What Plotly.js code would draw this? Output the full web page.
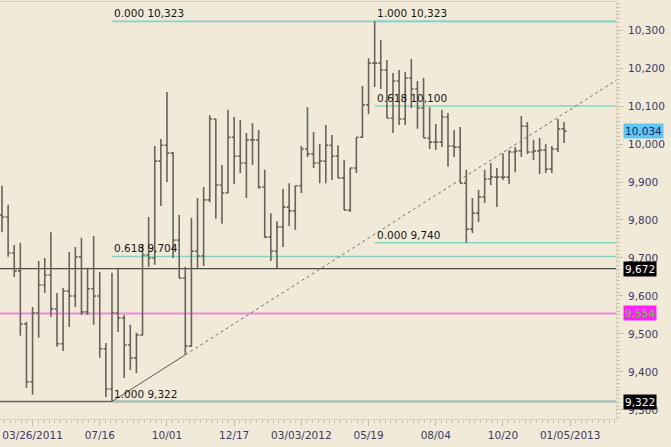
<!DOCTYPE html>
<html><head><meta charset="utf-8">
<script src="https://cdn.plot.ly/plotly-3.0.1.min.js"></script>
<style>html,body{margin:0;padding:0;background:#f2ead8;} #chart{width:671px;height:447px;}</style>
</head><body><div id="chart"></div>
<script>
// Weekly OHLC bars (index 0 = first bar on the chart)
const opens = [9813,9808,9713,9666,9526,9374,9555,9629,9655,9566,9474,9613,9600,9703,9558,9619,9600,9461,9355,9555,
9542,9471,9437,9497,9708,9700,9955,9997,9976,9747,9647,9468,9718,9705,9853,10066,9892,9871,10018,9968,
9950,10011,10011,9887,9755,9718,9782,9834,9824,9890,9987,9974,9950,9955,9997,9968,9911,9826,9937,10018,
10103,10213,10213,10195,10068,10166,10066,10174,10145,10095,10016,10005,10005,10071,9995,9992,9897,9776,9818,9861,
9908,9913,9913,9913,9979,9982,10047,9979,9982,9984,9934,9987,10040];
const highs = [9890,9840,9734,9740,9532,9571,9692,9700,9768,9608,9621,9716,9729,9753,9674,9758,9663,9476,9661,9674,
9550,9524,9503,9737,9808,9995,10013,10137,9979,9813,9676,9805,9858,9887,10076,10066,9945,10090,10071,10063,
10029,10055,10037,9932,9818,9797,9882,9897,9890,9995,10097,10032,10000,10050,10024,9997,9958,9937,10018,10153,
10226,10323,10274,10221,10187,10195,10190,10224,10166,10174,10097,10053,10090,10082,10037,10045,9932,9858,9879,9932,
9950,9937,9976,9984,9992,10074,10058,10011,10016,10000,9995,10066,10058];
const lows = [9768,9703,9650,9495,9358,9340,9490,9608,9545,9466,9455,9518,9571,9550,9550,9524,9437,9334,9322,9505,
9384,9405,9397,9495,9676,9682,9837,9900,9700,9647,9445,9466,9671,9679,9847,9803,9790,9871,9895,9924,
9858,9945,9882,9753,9692,9672,9729,9784,9774,9871,9966,9937,9897,9897,9905,9911,9826,9821,9924,10016,
10079,10150,10145,10068,10029,10050,10050,10095,10040,10016,9987,9984,9992,9940,9966,9897,9740,9766,9795,9845,
9892,9834,9905,9895,9926,9966,9974,9958,9921,9924,9924,9979,10003];
const closes = [9808,9713,9666,9526,9374,9555,9629,9655,9566,9474,9613,9600,9703,9558,9619,9600,9461,9355,9555,9542,
9471,9437,9497,9708,9700,9955,9997,9976,9747,9647,9468,9718,9705,9853,10066,9892,9871,10018,9968,9950,
10011,10011,9887,9755,9718,9782,9834,9824,9890,9987,9974,9950,9955,9997,9968,9911,9826,9937,10018,10103,
10213,10213,10195,10068,10166,10066,10174,10145,10095,10016,10005,10005,10071,9995,9992,9897,9776,9818,9861,9908,
9913,9913,9913,9979,9982,10047,9979,9982,9984,9934,9987,10040,10034];

// x-axis tick positions (bar index) and labels
const tickIdx = [5,16,27,38,49,60,71,82,93];
const tickLabels = ["03/26/2011","07/16","10/01","12/17","03/03/2012","05/19","08/04","10/20","01/05/2013"];

// Fibonacci levels: [label, value, start bar index]
const fibLabels = ["0.000 10,323","0.618 9,704","1.000 9,322","1.000 10,323","0.618 10,100","0.000 9,740"];
const fibValues = [10323, 9704, 9322, 10323, 10100, 9740];
const fibStart  = [18, 18, 18, 61, 61, 61];

// horizontal marker levels with axis boxes
const markLevels = [9672, 9554, 9322];
const lastClose = 10034;

// trend line anchors (bar index, price)
const trendX = [18, 30];
const trendY = [9322, 9445];

const xMax = 100.5, xMin = -0.33;
const idx = opens.map((_, i) => i);

const bg = '#f2ead8';
const barColor = '#69645a';
const slope = (trendY[1]-trendY[0])/(trendX[1]-trendX[0]);
const trendEndY = trendY[1] + slope*(xMax - trendX[1]);

const traces = [
  {type:'ohlc', x: idx, open: opens, high: highs, low: lows, close: closes,
   increasing:{line:{color:barColor, width:1.6}}, decreasing:{line:{color:barColor, width:1.6}},
   tickwidth:0.4, hoverinfo:'skip', showlegend:false},
  {type:'scatter', mode:'lines', x: trendX, y: trendY, line:{color:'#5c5850', width:1}, hoverinfo:'skip', showlegend:false},
  {type:'scatter', mode:'lines', x: [trendX[1], xMax], y: [trendY[1], trendEndY], line:{color:'#77716a', width:1, dash:'dot'}, hoverinfo:'skip', showlegend:false}
];

const shapes = [
  {type:'line', xref:'paper', x0:0, x1:1, yref:'y', y0:9672, y1:9672, line:{color:'#4e4a44', width:1.2}, layer:'below'},
  {type:'line', xref:'paper', x0:0, x1:1, yref:'y', y0:9554, y1:9554, line:{color:'#ee88dd', width:2}, layer:'below'},
  {type:'line', xref:'paper', x0:0, x1:1, yref:'y', y0:9322, y1:9322, line:{color:'#6a655c', width:1.5}, layer:'below'}
];
fibValues.forEach((v, i) => {
  shapes.push({type:'line', xref:'x', x0: fibStart[i], x1: xMax, yref:'y', y0:v, y1:v, line:{color:'#86d3c6', width:1.6}, layer:'below'});
});

const annotations = fibLabels.map((t, i) => ({
  xref:'x', yref:'y', x: fibStart[i], y: fibValues[i], text: t, showarrow:false,
  xanchor:'left', yanchor:'bottom', yshift:0,
  font:{family:'DejaVu Sans', size:10.5, color:'#161616'}
}));
const boxStyles = [
  {bg:'#000000', fg:'#ffffff'},
  {bg:'#ff22ff', fg:'#66cc33'},
  {bg:'#000000', fg:'#ffffff'}
];
markLevels.forEach((v, i) => {
  annotations.push({xref:'paper', yref:'y', x:1, y:v, xanchor:'left', yanchor:'middle', xshift:7,
    text: v.toLocaleString('en-US'), showarrow:false, bgcolor: boxStyles[i].bg, borderpad:1,
    font:{family:'DejaVu Sans', size:10.5, color: boxStyles[i].fg}});
});
annotations.push({xref:'paper', yref:'y', x:1, y:lastClose, xanchor:'left', yanchor:'middle', xshift:7,
  text: lastClose.toLocaleString('en-US'), showarrow:false, bgcolor:'#5ec8f2', borderpad:1,
  font:{family:'DejaVu Sans', size:10.5, color:'#1a2a55'}});

const layout = {
  width:671, height:447,
  margin:{l:0, r:55, t:2, b:28},
  paper_bgcolor: bg, plot_bgcolor: bg,
  showlegend:false,
  xaxis:{range:[xMin, xMax], showgrid:false, zeroline:false, tickmode:'array', tickvals: tickIdx, ticktext: tickLabels,
    ticks:'outside', ticklen:6, tickcolor:'#c9bda2', showline:true, linecolor:'#ddd3bb', linewidth:1, mirror:true,
    tickfont:{family:'DejaVu Sans', size:10.5, color:'#3a3a66'},
    minor:{ticks:'outside', ticklen:3, tickcolor:'#c9bda2', tick0:5, dtick:11/12},
    rangeslider:{visible:false}, fixedrange:true},
  yaxis:{side:'right', range:[9276, 10374], showgrid:false, zeroline:false, tick0:9300, dtick:100, tickformat:',',
    ticks:'outside', ticklen:6, tickcolor:'#c9bda2', showline:true, linecolor:'#ddd3bb', linewidth:1, mirror:true,
    ticklabelstandoff:3,
    tickfont:{family:'DejaVu Sans', size:10.5, color:'#3a3a66'},
    minor:{ticks:'outside', ticklen:3, tickcolor:'#c9bda2', dtick:10},
    fixedrange:true},
  shapes: shapes,
  annotations: annotations
};

Plotly.newPlot('chart', traces, layout, {displayModeBar:false, staticPlot:true});
</script>
</body></html>
